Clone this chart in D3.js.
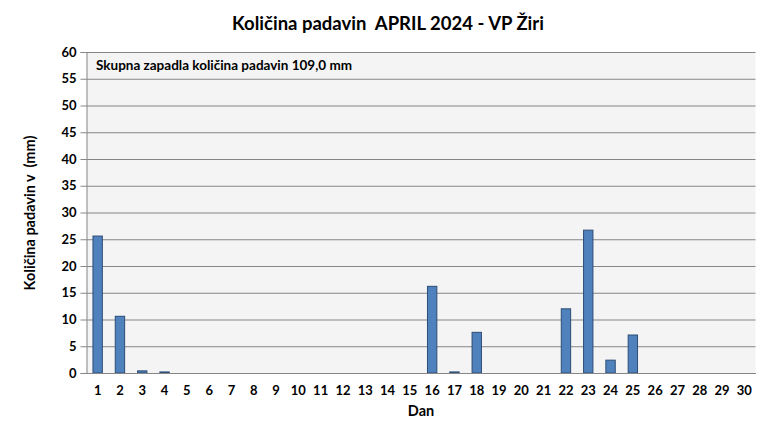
<!DOCTYPE html>
<html><head><meta charset="utf-8">
<script src="https://cdn.jsdelivr.net/npm/d3@7"></script>
<style>body{margin:0;background:#fff}svg{display:block;font-family:Lato,"Open Sans",sans-serif}</style>
</head><body><svg id="c" width="770" height="439"></svg>
<script>
const days = d3.range(1,31).map(String);
const rain = [25.6,10.6,0.4,0.2,0,0,0,0,0,0,0,0,0,0,0,16.2,0.2,7.6,0,0,0,12.0,26.7,2.4,7.1,0,0,0,0,0];
const yTicks = d3.range(0,61,5);
const title = "Količina padavin  APRIL 2024 - VP Žiri";
const note = "Skupna zapadla količina padavin 109,0 mm";
const xTitle = "Dan";
const yTitle = "Količina padavin v  (mm)";

const svg = d3.select("#c");
const m = {l:86.5,r:755.5,t:52,b:373};
const x = d3.scaleBand().domain(days).range([m.l,m.r]).paddingInner(0.58).paddingOuter(0.29);
const y = d3.scaleLinear().domain([0,60]).range([m.b,m.t]);

svg.append("rect").attr("x",m.l).attr("y",m.t).attr("width",m.r-m.l).attr("height",m.b-m.t).attr("fill","#f4f4f4");

const ya = svg.append("g").attr("transform",`translate(${m.l},0)`)
  .call(d3.axisLeft(y).tickValues(yTicks).tickSize(6).tickPadding(4));
ya.select(".domain").attr("stroke","#868686");
ya.selectAll(".tick line").attr("stroke","#868686");
ya.selectAll(".tick text").attr("font-size","13px").attr("font-weight","bold").attr("fill","#000").attr("font-family","Lato");
svg.append("g").selectAll("line").data(yTicks.filter(d=>d>0)).join("line")
  .attr("x1",m.l).attr("x2",m.r).attr("y1",d=>y(d)+0.5).attr("y2",d=>y(d)+0.5)
  .attr("stroke","#868686").attr("stroke-width",1);

svg.append("g").selectAll("rect").data(days.map((d,i)=>({d,v:rain[i]}))).join("rect")
  .attr("x",d=>x(d.d)).attr("width",x.bandwidth())
  .attr("y",d=>y(d.v)).attr("height",d=>y(0)-y(d.v))
  .attr("fill","#4f81bd").attr("stroke","#2c4d75").attr("stroke-width",1)
  .attr("display",d=>d.v>0?null:"none");

const xa = svg.append("g").attr("transform",`translate(0,${m.b})`)
  .call(d3.axisBottom(x).tickSize(0).tickPadding(13));
xa.select(".domain").attr("stroke","#868686");
xa.selectAll(".tick text").attr("font-size","13px").attr("font-weight","bold").attr("fill","#000").attr("font-family","Lato");

svg.append("text").attr("x",388).attr("y",30).attr("text-anchor","middle")
  .attr("font-size","18.5px").attr("font-weight","bold").style("white-space","pre").text(title);
svg.append("text").attr("x",96).attr("y",70).attr("font-size","13.5px").attr("font-weight","bold").text(note);
svg.append("text").attr("x",421).attr("y",416).attr("text-anchor","middle").attr("font-size","14.5px").attr("font-weight","bold").text(xTitle);
svg.append("text").attr("transform","translate(35,213) rotate(-90)").attr("text-anchor","middle")
  .attr("font-size","14.5px").attr("font-weight","bold").style("white-space","pre").text(yTitle);
</script></body></html>
